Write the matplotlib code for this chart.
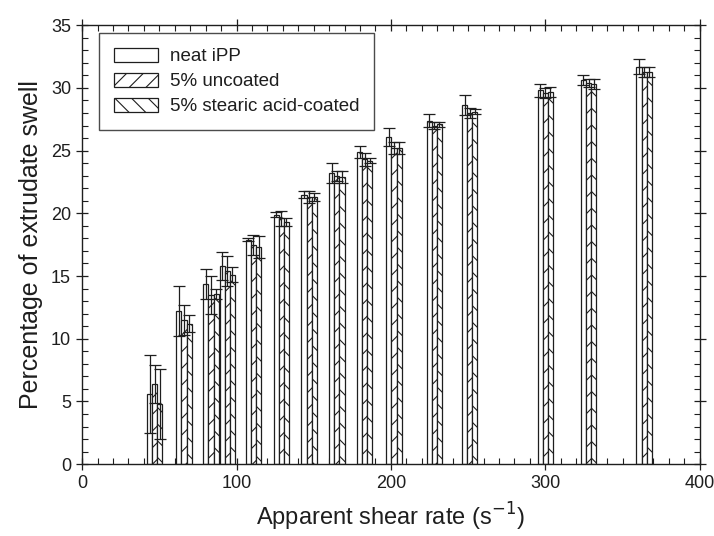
import numpy as np
import matplotlib.pyplot as plt
from matplotlib.ticker import MultipleLocator
from matplotlib.patches import Patch

# DATA #################################################################################################################
shear_rate = [47, 66, 83.5, 94, 111, 129, 147, 165, 183, 202, 228, 251, 300, 328, 364]

neat = [5.6, 12.2, 14.4, 15.8, 17.9, 19.9, 21.5, 23.2, 24.9, 26.1, 27.4, 28.6, 29.8, 30.6, 31.7]
neat_err = [3.1, 2.0, 1.2, 1.1, 0.1, 0.2, 0.3, 0.8, 0.5, 0.7, 0.5, 0.8, 0.5, 0.4, 0.6]

uncoated = [6.4, 11.5, 13.5, 15.4, 17.5, 19.6, 21.3, 23.0, 24.3, 25.2, 27.0, 28.0, 29.6, 30.4, 31.3]
uncoated_err = [1.5, 1.2, 1.5, 1.2, 0.8, 0.6, 0.5, 0.4, 0.5, 0.5, 0.3, 0.4, 0.4, 0.3, 0.4]

coated = [4.8, 11.2, 13.6, 15.1, 17.3, 19.3, 21.3, 22.9, 24.2, 25.2, 27.1, 28.1, 29.7, 30.3, 31.3]
coated_err = [2.8, 0.7, 0.4, 0.6, 0.9, 0.3, 0.3, 0.5, 0.2, 0.5, 0.2, 0.2, 0.4, 0.4, 0.4]

labels = ['neat iPP', '5% uncoated', '5% stearic acid-coated']

# FIGURE ###############################################################################################################
plt.rcParams['font.family'] = ['Liberation Sans', 'DejaVu Sans']
plt.rcParams['hatch.linewidth'] = 0.8
ink = '#1e1e1e'
plt.rcParams['hatch.color'] = ink

fig = plt.figure(figsize=(7.14, 5.36), dpi=100)
ax = fig.add_axes([0.115, 0.134, 0.865, 0.819])

x = np.array(shear_rate)
w = 3.3
series = [(neat, neat_err, ''), (uncoated, uncoated_err, '//'), (coated, coated_err, '\\\\')]
for i, (vals, err, hatch) in enumerate(series):
    xi = x + (i - 1) * w
    ax.bar(xi, vals, width=w, facecolor='white', edgecolor=ink, linewidth=0.9, hatch=hatch, zorder=2)
    ax.errorbar(xi, vals, yerr=err, fmt='none', ecolor=ink, elinewidth=0.9, capsize=4, capthick=0.9, zorder=3)

ax.set_xlim(0, 400)
ax.set_ylim(0, 35)
ax.xaxis.set_major_locator(MultipleLocator(100))
ax.xaxis.set_minor_locator(MultipleLocator(10))
ax.yaxis.set_major_locator(MultipleLocator(5))
ax.yaxis.set_minor_locator(MultipleLocator(1))
ax.tick_params(which='major', direction='inout', length=9, width=0.9, color=ink,
               top=True, right=True, labelsize=13, labelcolor=ink)
ax.tick_params(which='minor', direction='in', length=4, width=0.8, color=ink, top=True, right=True)
for s in ax.spines.values():
    s.set_linewidth(1.0)
    s.set_color(ink)

ax.set_xlabel('Apparent shear rate (s$^{-1}$)', fontsize=17, color=ink, labelpad=6)
ax.set_ylabel('Percentage of extrudate swell', fontsize=18, color=ink, labelpad=6)

handles = [Patch(facecolor='white', edgecolor=ink, linewidth=0.9, hatch=h) for _, _, h in series]
leg = ax.legend(handles, labels, loc='upper left', bbox_to_anchor=(0.028, 0.982), borderaxespad=0,
                fontsize=13.5, frameon=True, fancybox=False, edgecolor=ink, handlelength=2.3,
                handleheight=0.75, borderpad=0.8, labelspacing=0.4, handletextpad=0.65)
leg.get_frame().set_linewidth(1.0)
for t in leg.get_texts():
    t.set_color(ink)

plt.savefig('out.png', dpi=100)
